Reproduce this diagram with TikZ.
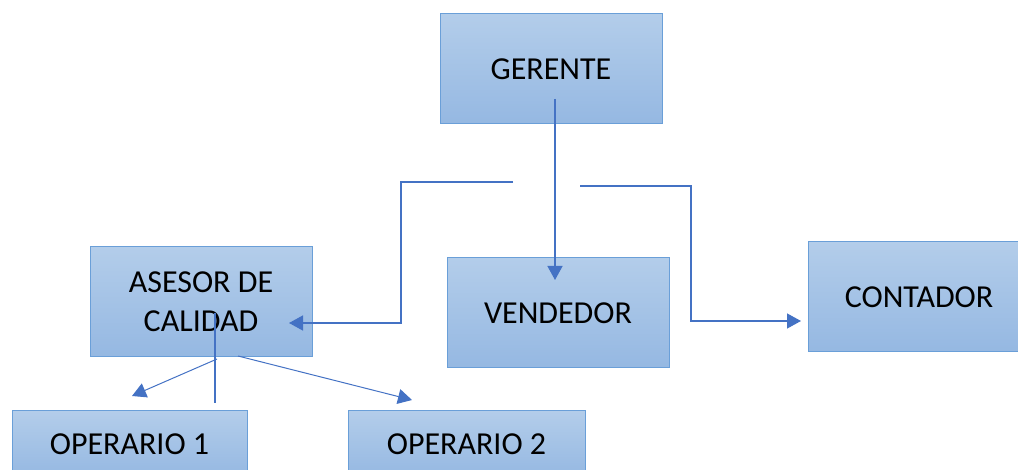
\documentclass[tikz,border=0pt]{standalone}
\usepackage{fontspec}
\setmainfont{Carlito}
\usetikzlibrary{arrows.meta}
\definecolor{boxtop}{HTML}{B3CDEA}
\definecolor{boxbot}{HTML}{95B8E2}
\definecolor{boxline}{HTML}{6A9FD8}
\definecolor{linkblue}{HTML}{4472C4}
\tikzset{
  puesto/.style={draw=boxline,line width=1pt,top color=boxtop,bottom color=boxbot,
    inner sep=0pt,align=center,font=\fontsize{32}{39}\selectfont},
  link/.style={draw=linkblue,line width=1.4pt,-{Triangle[width=15pt,length=14pt]}}
}
\begin{document}
\begin{tikzpicture}[x=1pt,y=-1pt]
\useasboundingbox (0,0) rectangle (1018,470);
\clip (0,0) rectangle (1018,470);
\node[puesto,minimum width=222pt,minimum height=110pt] (ger) at (551,69) {GERENTE};
\node[puesto,minimum width=222pt,minimum height=110pt] (ase) at (201,302) {ASESOR DE\\CALIDAD};
\node[puesto,minimum width=222pt,minimum height=110pt] (ven) at (558,313) {VENDEDOR};
\node[puesto,minimum width=222pt,minimum height=110pt] (con) at (919,297) {CONTADOR};
\node[puesto,minimum width=235pt,minimum height=66pt] (op1) at (129.5,444) {OPERARIO 1};
\node[puesto,minimum width=237pt,minimum height=66pt] (op2) at (466.5,444) {OPERARIO 2};
\coordinate (g1) at (555,99);
\coordinate (v1) at (555,280);
\coordinate (l1) at (513,182);
\coordinate (l2) at (401,182);
\coordinate (a1) at (289,323);
\coordinate (r1) at (580,186);
\coordinate (r2) at (691,186);
\coordinate (c1) at (801,321);
\coordinate (s1) at (215,313);
\coordinate (s2) at (215,403);
\coordinate (s3) at (217,359);
\coordinate (o1) at (132,396);
\coordinate (s4) at (238,356);
\coordinate (o2) at (412,400);
\draw[link] (g1) -- (v1);
\draw[link] (l1) -- (l2) |- (a1);
\draw[link] (r1) -- (r2) |- (c1);
\draw[link,-] (s1) -- (s2);
\draw[link,line width=1pt] (s3) -- (o1);
\draw[link,line width=1pt] (s4) -- (o2);
\end{tikzpicture}
\end{document}
